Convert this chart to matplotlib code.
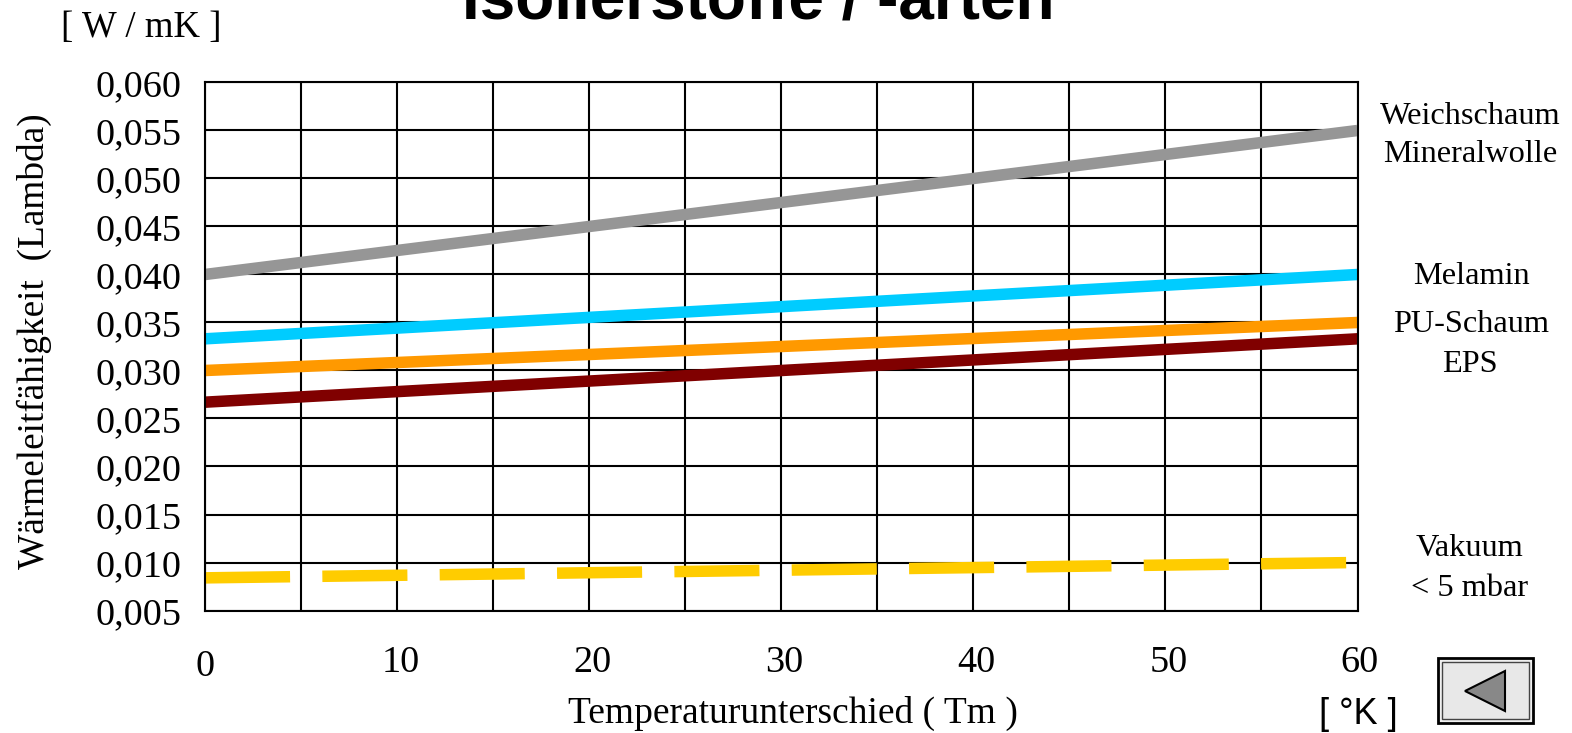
import matplotlib
matplotlib.use('Agg')
from matplotlib import pyplot as plt
from matplotlib.patches import Polygon, Rectangle

W, H = 1572, 733

x_ends = [0, 60]
weichschaum = [0.0400, 0.0550]
melamin = [0.0333, 0.0400]
pu_schaum = [0.0300, 0.0350]
eps = [0.0267, 0.0333]
vakuum = [0.0084, 0.0100]

y_ticks = [0.005, 0.010, 0.015, 0.020, 0.025, 0.030, 0.035, 0.040, 0.045, 0.050, 0.055, 0.060]
y_labels = ['0,005', '0,010', '0,015', '0,020', '0,025', '0,030', '0,035', '0,040', '0,045', '0,050', '0,055', '0,060']
x_grid = [0, 5, 10, 15, 20, 25, 30, 35, 40, 45, 50, 55, 60]
x_labels = [0, 10, 20, 30, 40, 50, 60]
x_label_dx = [0, 4, 3, 3, 3, 3, 2]
x_label_dy = [4, 0, 0, 0, 0, 0, 0]

SERIF = 'Liberation Serif'
SANS = 'Liberation Sans'


def fx(px):
    return px / W


def fy(px):
    return 1 - px / H


def ftext(px, py, s, size, ha='center', va='center', family=SERIF, **kw):
    fig.text(fx(px), fy(py), s, fontsize=size, ha=ha, va=va, family=family, **kw)


fig = plt.figure(figsize=(W / 100, H / 100), dpi=100)
ax = fig.add_axes([fx(205), fy(610.5), fx(1357.5 - 205), (610.5 - 82.5) / H])
ax.set_xlim(0, 60)
ax.set_ylim(0.005, 0.060)
ax.set_xticks(x_grid)
ax.set_yticks(y_ticks)
ax.set_yticklabels(y_labels, family=SERIF, fontsize=27.5)
ax.set_xticklabels([])
ax.tick_params(length=0)
ax.tick_params(axis='y', pad=17)
ax.grid(True, color='black', linewidth=1.5)
ax.set_axisbelow(True)
for s in ax.spines.values():
    s.set_linewidth(1.5)

ax.plot(x_ends, weichschaum, color='#969696', lw=8.3, solid_capstyle='butt', clip_on=False)
ax.plot(x_ends, melamin, color='#00ccff', lw=8.3, solid_capstyle='butt', clip_on=False)
ax.plot(x_ends, pu_schaum, color='#ff9900', lw=8.3, solid_capstyle='butt', clip_on=False)
ax.plot(x_ends, eps, color='#800000', lw=8.3, solid_capstyle='butt', clip_on=False)
ax.plot(x_ends, vakuum, color='#ffcc00', lw=8.3, dashes=(7.38, 2.8), dash_capstyle='butt')

for v, dx, dy in zip(x_labels, x_label_dx, x_label_dy):
    ax.annotate(str(v), xy=(v, 0.005), xycoords='data', xytext=(dx * 0.72, -(52 + dy) * 0.72),
                textcoords='offset points', ha='center', va='center', family=SERIF, fontsize=27.5)

ftext(141, 28, '[ W / mK ]', 26.5)
ftext(34.5, 341, 'Wärmeleitfähigkeit  (Lambda)', 26.8, rotation=90)
ftext(793, 713, 'Temperaturunterschied ( Tm )', 27)
ftext(1358, 715, '[ °K ]', 26, family=SANS)
ftext(758, 18, 'Isolierstoffe / -arten', 46, va='baseline', family=SANS, fontweight='bold')

ftext(1470, 116, 'Weichschaum', 23.3)
ftext(1470, 154, 'Mineralwolle', 23.3)
ftext(1471, 276, 'Melamin', 23.3)
ftext(1471, 324, 'PU-Schaum', 23.3)
ftext(1470, 364, 'EPS', 23.3)
ftext(1470, 549, 'Vakuum', 23.3)
ftext(1470, 588, '< 5 mbar', 23.3)

# back button
fig.add_artist(Rectangle((fx(1438), fy(722.5)), 95 / W, 64.5 / H, transform=fig.transFigure,
                         facecolor='#f0f0f0', edgecolor='black', linewidth=2))
fig.add_artist(Rectangle((fx(1442), fy(718.5)), 87 / W, 56.5 / H, transform=fig.transFigure,
                         facecolor='#e8e8e8', edgecolor='#444444', linewidth=1))
fig.add_artist(Polygon([(fx(1465), fy(691)), (fx(1505), fy(671)), (fx(1505), fy(711))],
                       transform=fig.transFigure, facecolor='#888888', edgecolor='black', linewidth=1.5))

fig.savefig('out.png', dpi=100)
